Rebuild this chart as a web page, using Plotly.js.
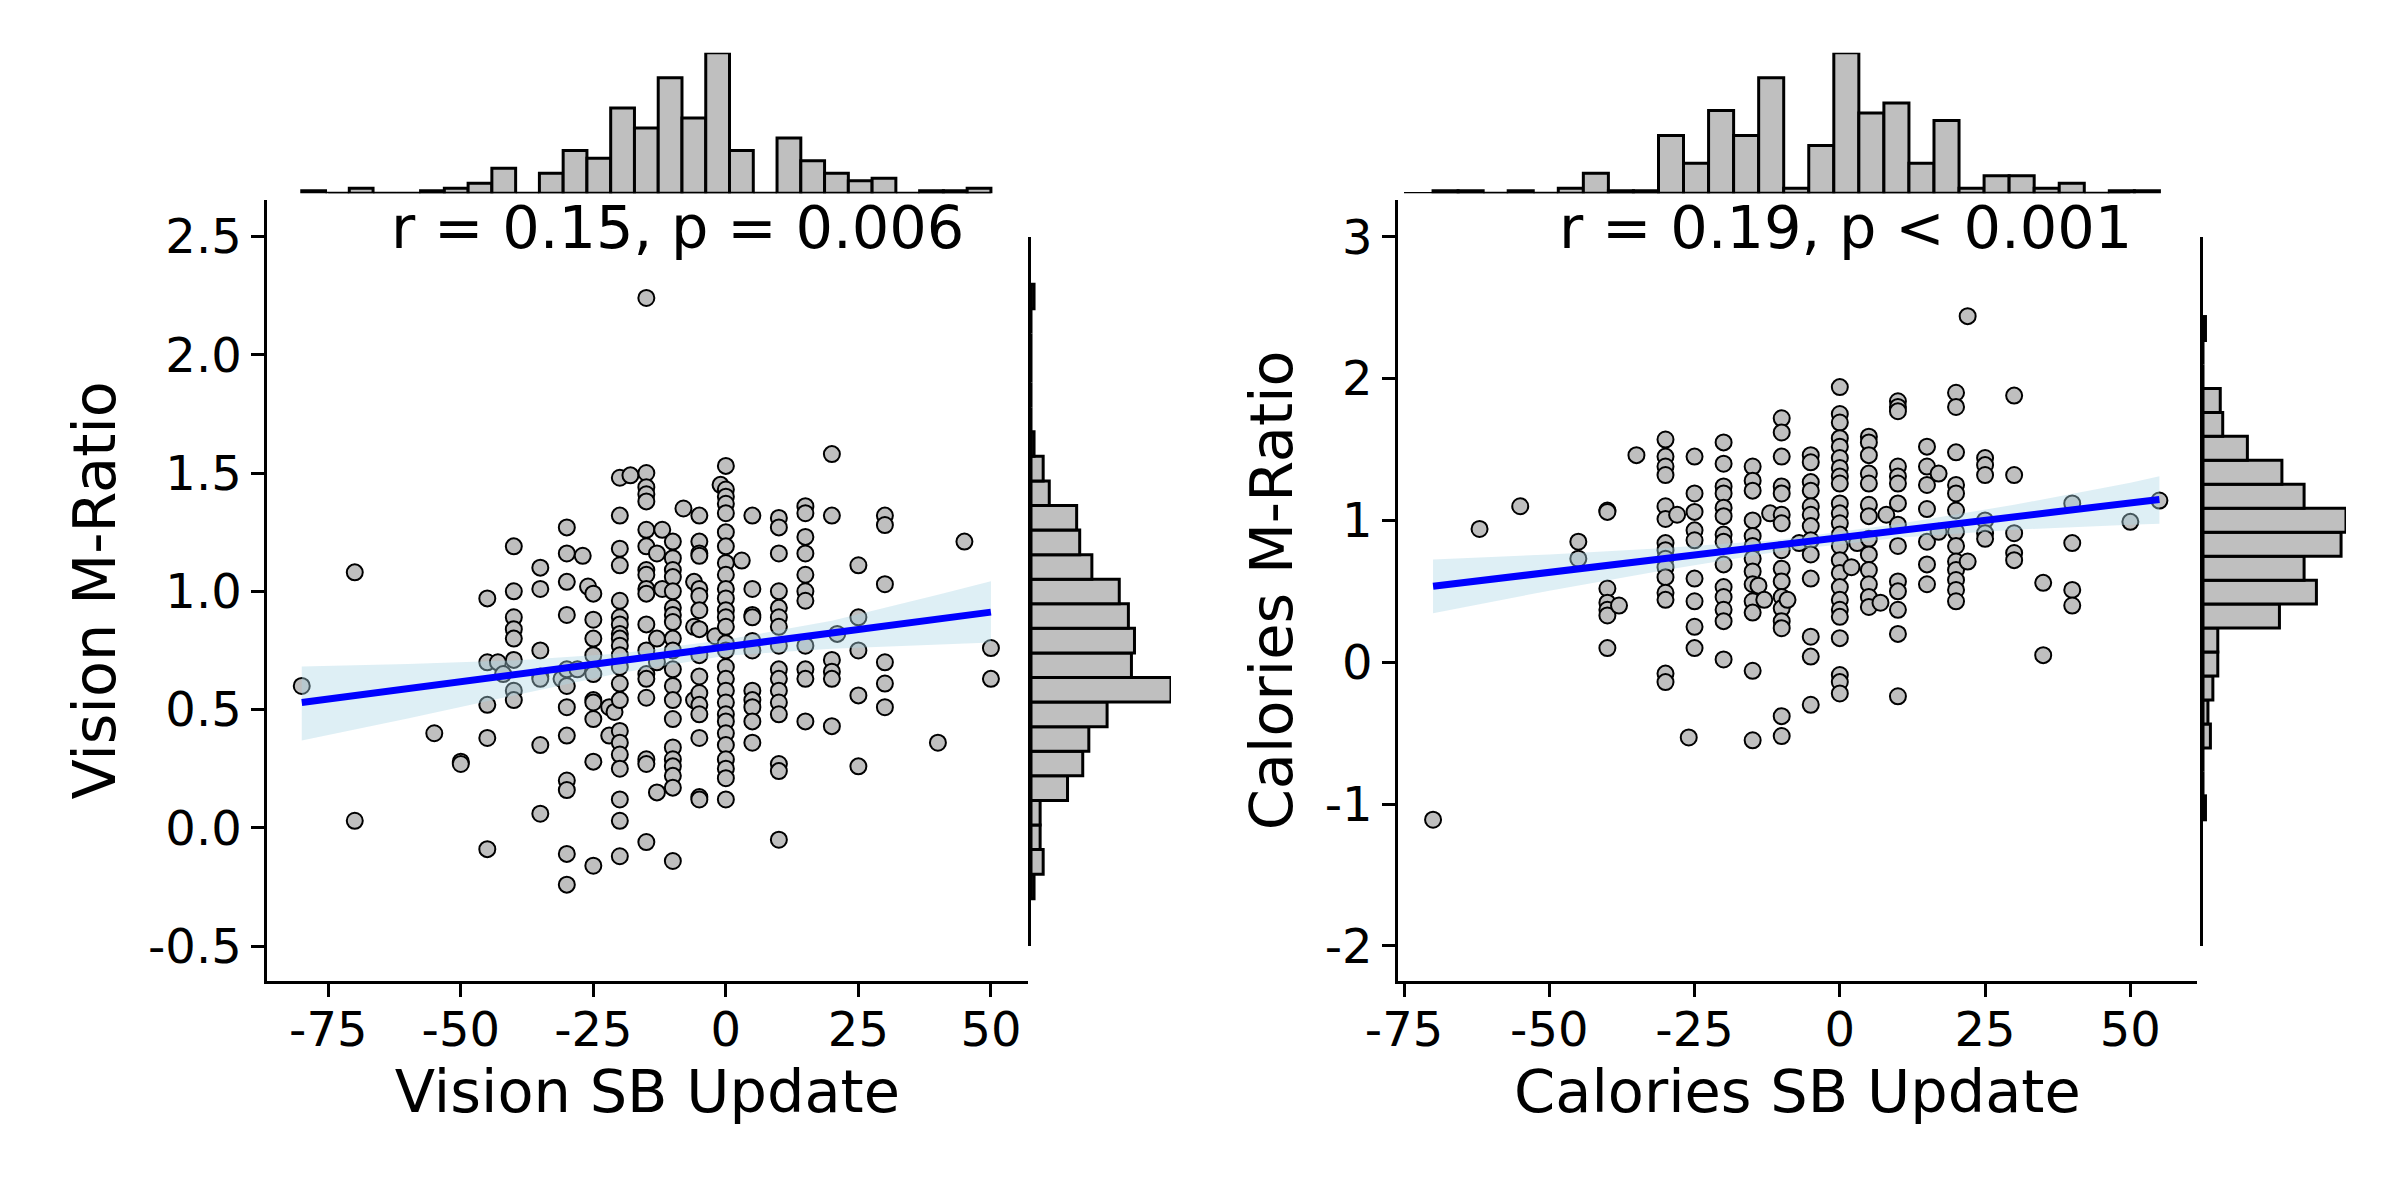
<!DOCTYPE html>
<html>
<head>
<meta charset="utf-8">
<script src="https://cdn.plot.ly/plotly-3.0.1.min.js"></script>
<style>html,body{margin:0;padding:0;background:#fff;}#chart{width:2400px;height:1200px;}</style>
</head>
<body>
<div id="chart"></div>
<script>
// ---------- Vision panel data ----------
const visionX = [-15,20,0,-20,-18,-15,-15,-15,-1,0,0,
 -80,-70,-70,-55,-50,-50,-45,-45,-45,-45,-45,-43,-42,
 -40,-40,-40,-40,-40,-40,-40,-40,
 -35,-35,-35,-35,-35,-35,-35,-31,
 -30,-30,-30,-30,-30,-30,-30,-30,-30,-30,-30,-30,
 -27,-28,-26,-25,-25,-25,-25,-25,-25,-25,-25,-25,-25,
 -22,-21,-22,
 -20,-20,-20,-20,-20,-20,-20,-20,-20,-20,-20,-20,-20,-20,-20,-20,-20,-20,-20,-20,
 -15,-15,-15,-15,-15,-15,-15,-15,-15,-15,-15,-15,-15,-15,-15,
 -12,-13,-12,-13,-13,-13,
 -10,-10,-10,-10,-10,-10,-10,-10,-10,-10,-10,-10,-10,-10,-10,-10,-10,-10,-10,-10,
 -8,-6,-6,-6,
 -5,-5,-5,-5,-5,-5,-5,-5,-5,-5,-5,-5,-5,-5,-5,-5,
 -2,
 0,0,0,0,0,0,0,0,0,0,0,0,0,0,0,0,0,0,0,0,0,0,0,0,0,
 3,
 5,5,5,5,5,5,5,5,5,5,5,
 10,10,10,10,10,10,10,10,10,10,10,10,10,10,10,10,
 15,15,15,15,15,15,15,15,15,15,15,
 20,20,20,20,20,21,
 25,25,25,25,25,
 30,30,30,30,30,30,
 40,45,50,50];
const visionY = [2.24,1.58,1.53,1.48,1.49,1.50,1.44,1.41,1.45,1.43,1.40,
 0.60,1.08,0.03,0.40,0.28,0.27,0.97,0.70,0.52,0.38,-0.09,0.70,0.65,
 1.19,1.00,0.89,0.84,0.80,0.71,0.58,0.54,
 1.10,1.01,0.75,0.64,0.63,0.35,0.06,0.63,
 1.27,1.16,1.04,0.90,0.67,0.60,0.51,0.39,0.20,0.16,-0.11,-0.24,
 1.15,0.67,1.02,0.99,0.88,0.80,0.73,0.65,0.54,0.53,0.46,0.28,-0.16,
 0.51,0.49,0.39,
 1.32,1.18,1.11,0.96,0.89,0.86,0.82,0.80,0.77,0.73,0.68,0.61,0.54,0.41,0.36,0.31,0.25,0.12,0.03,-0.12,
 1.38,1.26,1.19,1.09,1.07,1.01,0.99,0.86,0.75,0.65,0.63,0.55,0.29,0.27,-0.06,
 1.26,1.16,1.01,0.70,0.15,0.80,
 1.21,1.14,1.09,1.06,1.00,0.93,0.90,0.87,0.80,0.75,0.67,0.60,0.54,0.46,0.34,0.29,0.26,0.22,0.17,-0.14,
 1.35,1.04,0.85,0.54,
 1.32,1.21,1.16,1.15,1.01,0.98,0.92,0.84,0.73,0.64,0.57,0.52,0.48,0.38,0.13,0.12,
 0.81,
 1.37,1.33,1.25,1.19,1.12,1.07,1.01,0.97,0.92,0.89,0.85,0.78,0.75,0.68,0.63,0.58,0.53,0.48,0.45,0.40,0.35,0.29,0.25,0.21,0.12,
 1.13,
 1.32,1.01,0.90,0.89,0.79,0.75,0.58,0.54,0.51,0.45,0.36,
 1.31,1.27,1.16,1.00,0.93,0.89,0.85,0.77,0.67,0.63,0.58,0.53,0.48,0.27,0.24,-0.05,
 1.36,1.33,1.23,1.16,1.07,1.00,0.96,0.77,0.67,0.63,0.45,
 1.32,0.71,0.66,0.63,0.43,0.82,
 1.11,0.89,0.75,0.56,0.26,
 1.32,1.28,1.03,0.70,0.61,0.51,
 0.36,1.21,0.76,0.63];

const visionLineX = [-80, 50];
const visionLineY = [0.530, 0.912];
const visionBandX = [-80, -60, -40, -20, 0, 20, 40, 50];
const visionBandUpper = [0.682, 0.693, 0.708, 0.737, 0.795, 0.875, 0.985, 1.042];
const visionBandLower = [0.369, 0.462, 0.560, 0.655, 0.728, 0.757, 0.775, 0.784];

// marginal histogram of Vision SB Update (29 bins from -80 to 50)
const visionXHistStart = -80, visionXHistEnd = 50;
const visionXHistCounts = [1,0,2,0,0,1,2,4,10,0,8,17,14,34,26,46,30,56,17,0,22,13,8,5,6,0,1,1,2];
// marginal histogram of Vision M-Ratio (25 bins from -0.30, width 0.104)
const visionYHistStart = -0.30, visionYHistWidth = 0.104;
const visionYHistCounts = [1,4,3,3,12,17,19,25,46,33,34,32,29,20,16,15,6,4,1,0,0,0,0,0,1];

const visionXTicks = [-75,-50,-25,0,25,50];
const visionXTickText = ['-75','-50','-25','0','25','50'];
const visionYTicks = [-0.5,0,0.5,1,1.5,2,2.5];
const visionYTickText = ['-0.5','0.0','0.5','1.0','1.5','2.0','2.5'];
const visionStat = 'r = 0.15, p = 0.006';

// ---------- Calories panel data ----------
const caloriesX = [22,0,20,20,30,10,10,10,-10,-10,0,0,0,0,0,0,0,0,-30,-30,-30,-30,-20,-20,5,5,5,5,5,
 -35,-25,-15,-15,-10,-5,-5,-5,15,15,15,20,25,25,25,17,30,10,10,10,-25,-10,-10,-5,20,20,-20,-20,-15,40,
 -70,-62,-55,-45,-45,
 -40,-40,-40,-40,-40,-40,-40,-38,
 -30,-30,-30,-30,-30,-30,-30,-30,-30,-30,-30,
 -28,
 -25,-25,-25,-25,-25,-25,-25,-26,
 -20,-20,-20,-20,-20,-20,-20,-20,-20,-20,
 -15,-15,-15,-15,-15,-15,-15,-15,-15,-15,-14,-13,-12,
 -10,-10,-10,-10,-10,-10,-10,-10,-10,-10,-10,-9,-7,
 -5,-5,-5,-5,-5,-5,-5,-5,-5,
 0,0,0,0,0,0,0,0,0,0,0,0,0,0,0,
 2,3,
 5,5,5,5,5,5,5,5,7,8,
 10,10,10,10,10,10,10,10,
 15,15,15,15,17,
 20,20,20,20,20,20,20,20,22,
 25,25,25,30,30,30,35,35,40,40,40,50,55];
const caloriesY = [2.44,1.94,1.90,1.80,1.88,1.84,1.80,1.77,1.72,1.62,1.75,1.69,1.58,1.52,1.44,1.37,1.31,1.26,1.57,1.45,1.38,1.32,1.55,1.40,1.59,1.55,1.46,1.33,1.26,
 1.46,1.45,1.38,1.28,1.45,1.46,1.41,1.27,1.52,1.38,1.25,1.48,1.44,1.39,1.32,1.33,1.32,1.38,1.31,1.26,1.19,1.24,1.19,1.21,1.25,1.19,1.24,1.19,1.21,1.12,
 -1.11,0.94,1.10,0.85,0.73,
 1.07,1.06,0.52,0.42,0.37,0.33,0.10,0.40,
 1.10,1.01,0.84,0.79,0.73,0.67,0.60,0.49,0.44,-0.08,-0.14,
 1.04,
 1.06,0.93,0.86,0.59,0.43,0.25,0.10,-0.53,
 1.09,1.03,0.90,0.85,0.69,0.53,0.46,0.37,0.29,0.02,
 1.00,0.89,0.82,0.73,0.64,0.55,0.43,0.35,-0.06,-0.55,0.54,0.44,1.05,
 1.04,0.98,0.79,0.66,0.57,0.46,0.38,0.29,0.24,-0.38,-0.52,0.44,0.84,
 1.10,1.04,0.96,0.86,0.76,0.59,0.18,0.04,-0.30,
 1.12,1.05,0.98,0.90,0.82,0.72,0.63,0.53,0.44,0.37,0.32,0.17,-0.09,-0.14,-0.22,
 0.67,0.84,
 1.11,1.03,0.87,0.76,0.65,0.55,0.46,0.39,0.42,1.04,
 1.12,0.97,0.82,0.57,0.50,0.37,0.20,-0.24,
 1.08,0.85,0.69,0.55,0.92,
 1.07,0.92,0.82,0.71,0.65,0.58,0.51,0.43,0.71,
 1.00,0.91,0.87,0.91,0.77,0.72,0.56,0.05,0.84,0.51,0.40,0.99,1.14];

const caloriesLineX = [-70, 55];
const caloriesLineY = [0.536, 1.148];
const caloriesBandX = [-70, -50, -30, -10, 10, 30, 50, 55];
const caloriesBandUpper = [0.725, 0.760, 0.805, 0.865, 0.975, 1.110, 1.265, 1.311];
const caloriesBandLower = [0.345, 0.505, 0.650, 0.785, 0.878, 0.935, 0.970, 0.976];

// marginal histogram of Calories SB Update (29 bins from -70 to 55)
const caloriesXHistStart = -70, caloriesXHistEnd = 55;
const caloriesXHistCounts = [1,1,0,1,0,2,8,1,1,23,12,33,23,46,2,19,56,32,36,12,29,2,7,7,2,4,0,1,1];
// marginal histogram of Calories M-Ratio (21 bins from -1.11, width 0.169)
const caloriesYHistStart = -1.11, caloriesYHistWidth = 0.169;
const caloriesYHistCounts = [1,0,0,3,2,4,6,6,31,46,41,56,58,41,32,18,8,7,0,0,1];

const caloriesXTicks = [-75,-50,-25,0,25,50];
const caloriesXTickText = ['-75','-50','-25','0','25','50'];
const caloriesYTicks = [-2,-1,0,1,2,3];
const caloriesYTickText = ['-2','-1','0','1','2','3'];
const caloriesStat = 'r = 0.19, p < 0.001';

// ---------- styling ----------
const FONT = 'DejaVu Sans';
const PT_FILL = '#bfbfbf';
const BAR_FILL = '#bfbfbf';
const LINE_BLUE = '#0000ff';
const BAND_FILL = 'rgba(173,216,230,0.4)';
const W = 2400, H = 1200;
const px = v => v / W;
const py = v => 1 - v / H;

function centers(start, width, n) { const c = []; for (let i = 0; i < n; i++) c.push(start + (i + 0.5) * width); return c; }

function panelTraces(xs, ys, lx, ly, bx, bu, bl, xhStart, xhEnd, xhCounts, yhStart, yhW, yhCounts, ax) {
  const xw = (xhEnd - xhStart) / xhCounts.length;
  return [
    { type: 'scatter', mode: 'markers', x: xs, y: ys, xaxis: ax.x, yaxis: ax.y,
      marker: { size: 16, color: PT_FILL, line: { color: 'black', width: 2 } }, hoverinfo: 'x+y' },
    { type: 'scatter', mode: 'lines', x: bx.concat(bx.slice().reverse()), y: bu.concat(bl.slice().reverse()),
      xaxis: ax.x, yaxis: ax.y, fill: 'toself', fillcolor: BAND_FILL, line: { width: 0 }, hoverinfo: 'skip' },
    { type: 'scatter', mode: 'lines', x: lx, y: ly, xaxis: ax.x, yaxis: ax.y,
      line: { color: LINE_BLUE, width: 7 }, hoverinfo: 'skip' },
    { type: 'bar', x: centers(xhStart, xw, xhCounts.length), y: xhCounts, width: xw,
      xaxis: ax.x, yaxis: ax.ytop, cliponaxis: false,
      marker: { color: BAR_FILL, line: { color: 'black', width: 3 } } },
    { type: 'bar', orientation: 'h', y: centers(yhStart, yhW, yhCounts.length), x: yhCounts, width: yhW,
      xaxis: ax.xr, yaxis: ax.yr, cliponaxis: false,
      marker: { color: BAR_FILL, line: { color: 'black', width: 3 } } }
  ];
}

const data = [].concat(
  panelTraces(visionX, visionY, visionLineX, visionLineY, visionBandX, visionBandUpper, visionBandLower,
    visionXHistStart, visionXHistEnd, visionXHistCounts, visionYHistStart, visionYHistWidth, visionYHistCounts,
    { x: 'x', y: 'y', ytop: 'y2', xr: 'x3', yr: 'y3' }),
  panelTraces(caloriesX, caloriesY, caloriesLineX, caloriesLineY, caloriesBandX, caloriesBandUpper, caloriesBandLower,
    caloriesXHistStart, caloriesXHistEnd, caloriesXHistCounts, caloriesYHistStart, caloriesYHistWidth, caloriesYHistCounts,
    { x: 'x4', y: 'y4', ytop: 'y5', xr: 'x6', yr: 'y6' })
);

const tickFont = { family: FONT, size: 48, color: 'black' };
const titleFont = { family: FONT, size: 59, color: 'black' };

function mainX(domain, range, tv, tt, title, anchor) {
  return { domain, range, anchor, tickvals: tv, ticktext: tt, tickfont: tickFont,
    showline: true, linewidth: 3, linecolor: 'black', ticks: 'outside', ticklen: 13, tickwidth: 3, tickcolor: 'black',
    ticklabelstandoff: -8,
    showgrid: false, zeroline: false, title: { text: title, font: titleFont, standoff: 14 } };
}
function mainY(domain, range, tv, tt, title, anchor) {
  return { domain, range, anchor, tickvals: tv, ticktext: tt, tickfont: tickFont,
    showline: true, linewidth: 3, linecolor: 'black', ticks: 'outside', ticklen: 13, tickwidth: 3, tickcolor: 'black',
    showgrid: false, zeroline: false, title: { text: title, font: titleFont, standoff: 14 } };
}
const hidden = (domain, range, anchor) => ({ domain, range, anchor, visible: false, showgrid: false, zeroline: false });
const margY = (domain, range, anchor) => ({ domain, range, anchor, showline: true, linewidth: 3, linecolor: 'black',
  showticklabels: false, ticks: '', showgrid: false, zeroline: false });

const topDomain = [py(193.3), py(52.7)];
const mainYDomain = [py(980.7), py(200)];
const sideYDomain = [py(946), py(237)];

const layout = {
  width: W, height: H, margin: { l: 0, r: 0, t: 0, b: 0 },
  paper_bgcolor: 'white', plot_bgcolor: 'rgba(0,0,0,0)', showlegend: false,
  font: { family: FONT, color: 'black' },
  xaxis: mainX([px(267.3), px(1027.5)], [-86.5, 56.9], visionXTicks, visionXTickText, 'Vision SB Update', 'y'),
  yaxis: mainY(mainYDomain, [-0.646, 2.654], visionYTicks, visionYTickText, 'Vision M-Ratio', 'x'),
  yaxis2: hidden(topDomain, [0, Math.max(...visionXHistCounts)], 'x'),
  xaxis3: hidden([px(1031), px(1171)], [0, Math.max(...visionYHistCounts)], 'y3'),
  yaxis3: margY(sideYDomain, [visionYTicks[0], visionYTicks[visionYTicks.length - 1]], 'x3'),
  xaxis4: mainX([px(1398.2), px(2196.6)], [-76.0, 61.4], caloriesXTicks, caloriesXTickText, 'Calories SB Update', 'y4'),
  yaxis4: mainY(mainYDomain, [-2.245, 3.259], caloriesYTicks, caloriesYTickText, 'Calories M-Ratio', 'x4'),
  yaxis5: hidden(topDomain, [0, Math.max(...caloriesXHistCounts)], 'x4'),
  xaxis6: hidden([px(2203), px(2346)], [0, Math.max(...caloriesYHistCounts)], 'y6'),
  yaxis6: margY(sideYDomain, [caloriesYTicks[0], caloriesYTicks[caloriesYTicks.length - 1]], 'x6'),
  shapes: [
    { type: 'line', xref: 'x', yref: 'y2', x0: visionXTicks[0], x1: visionXTicks[visionXTicks.length - 1], y0: 0, y1: 0,
      line: { color: 'black', width: 2.5 }, layer: 'below' },
    { type: 'line', xref: 'x4', yref: 'y5', x0: caloriesXTicks[0], x1: caloriesXTicks[caloriesXTicks.length - 1], y0: 0, y1: 0,
      line: { color: 'black', width: 2.5 }, layer: 'below' }
  ],
  annotations: [
    { text: visionStat, xref: 'paper', yref: 'paper', x: px(966), y: py(227.5), xanchor: 'right', yanchor: 'middle',
      showarrow: false, font: titleFont },
    { text: caloriesStat, xref: 'paper', yref: 'paper', x: px(2134), y: py(227.5), xanchor: 'right', yanchor: 'middle',
      showarrow: false, font: titleFont }
  ]
};

Plotly.newPlot('chart', data, layout, { staticPlot: true, displayModeBar: false });
</script>
</body>
</html>
